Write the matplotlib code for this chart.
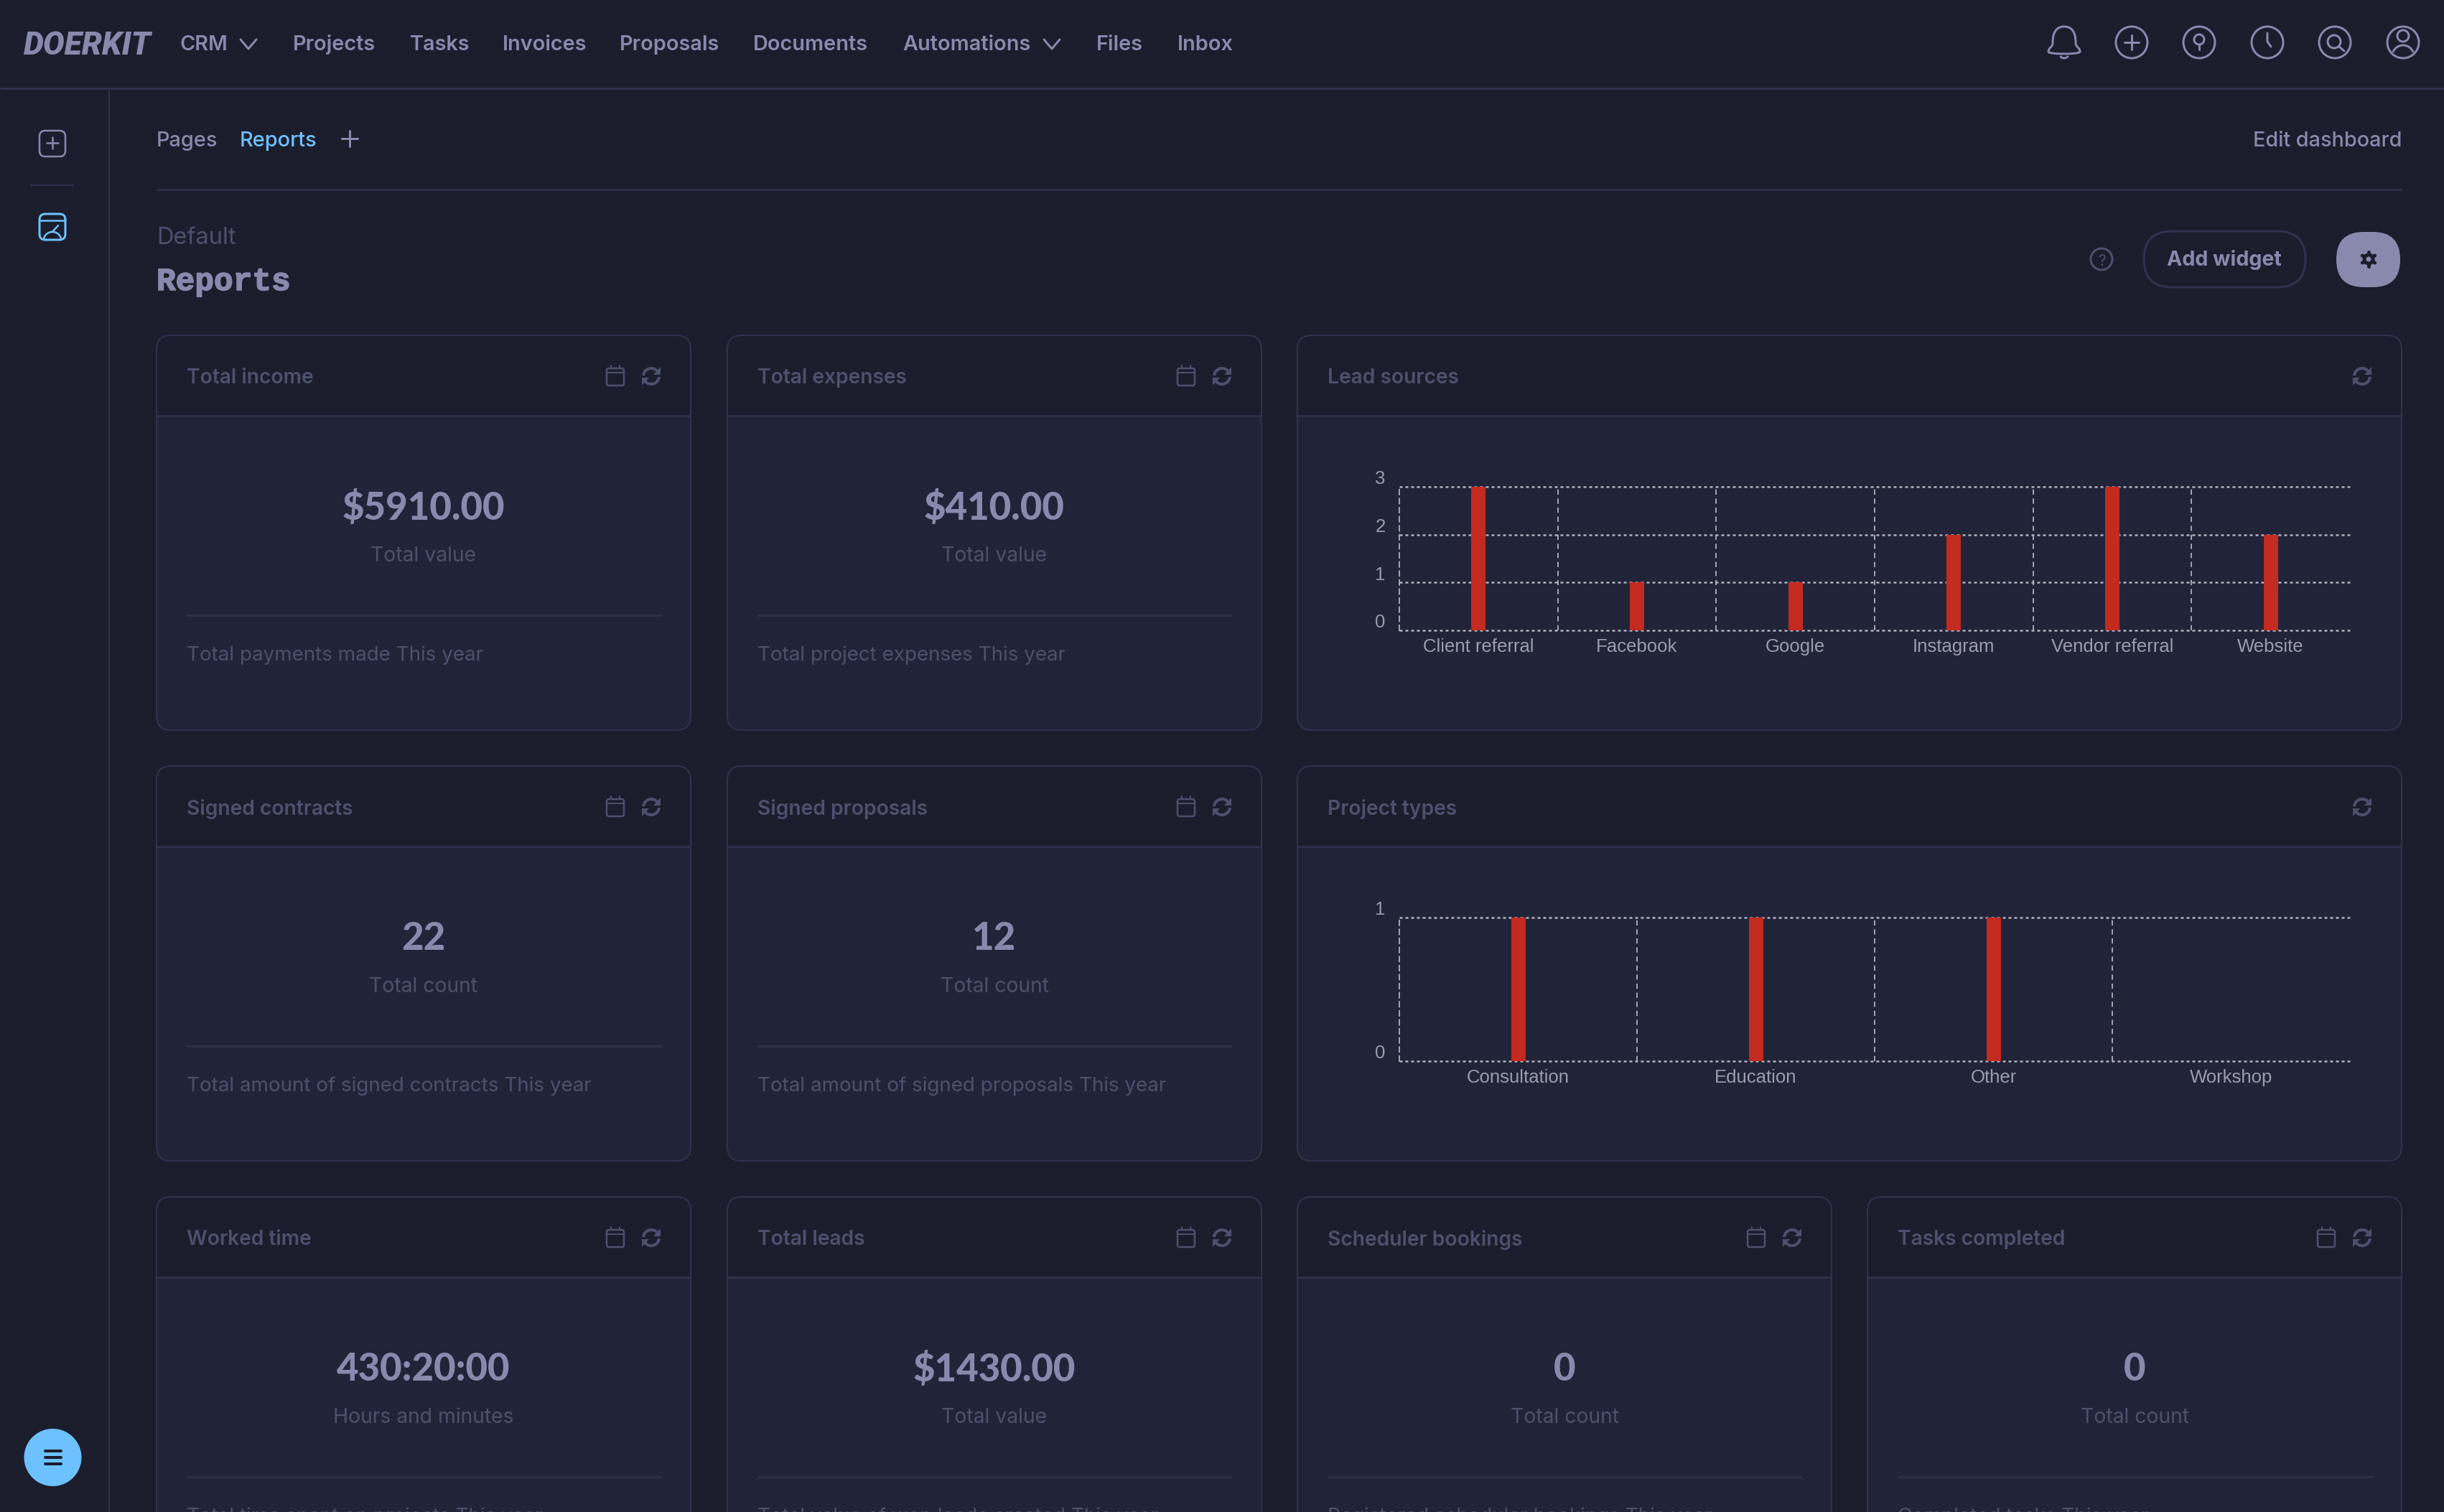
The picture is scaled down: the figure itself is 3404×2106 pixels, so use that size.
import numpy as np
import matplotlib
matplotlib.use("Agg")
import matplotlib.pyplot as plt
import matplotlib.patheffects as pe
from matplotlib.patches import Arc, Circle, FancyBboxPatch, Polygon, Rectangle
from matplotlib.path import Path
from matplotlib.patches import PathPatch
from matplotlib.transforms import ScaledTranslation

W, H = 3404, 2106

# colours
BG = "#1b1d2c"
BODY = "#212438"
BORDER = "#31324d"
TEXT = "#8889ad"
DIM = "#4d506d"
BLUE = "#6ec1ff"
RED = "#c32a20"
GRID = "#b0b1bf"
TICK = "#9a9cae"

# chart data
lead_sources = ["Client referral", "Facebook", "Google", "Instagram", "Vendor referral", "Website"]
lead_counts = [3, 1, 1, 2, 3, 2]
project_types = ["Consultation", "Education", "Other", "Workshop"]
project_counts = [1, 1, 1, 0]

# nav
nav_labels = ["CRM", "Projects", "Tasks", "Invoices", "Proposals", "Documents", "Automations", "Files", "Inbox"]
nav_x = [250, 408, 571, 700, 863, 1049, 1257, 1527, 1640]

# stat cards
stat_titles = ["Total income", "Total expenses", "Signed contracts", "Signed proposals",
               "Worked time", "Total leads", "Scheduler bookings", "Tasks completed"]
stat_values = ["$5910.00", "$410.00", "22", "12", "430:20:00", "$1430.00", "0", "0"]
stat_units = ["Total value", "Total value", "Total count", "Total count",
              "Hours and minutes", "Total value", "Total count", "Total count"]
stat_notes = ["Total payments made This year", "Total project expenses This year",
              "Total amount of signed contracts This year", "Total amount of signed proposals This year",
              "Total time spent on projects This year", "Total value of won leads created This year",
              "Registered scheduler bookings This year", "Completed tasks This year"]
stat_left = [218, 1013, 218, 1013, 218, 1013, 1807, 2601]
stat_top = [467, 467, 1067, 1067, 1667, 1667, 1667, 1667]
CARD_W = 744
CARD_H = 550

fig = plt.figure(figsize=(W / 100, H / 100), dpi=100, facecolor=BG)
ui = fig.add_axes([0, 0, 1, 1])
ui.set_xlim(0, W)
ui.set_ylim(H, 0)
ui.axis("off")


def px(v):
    # pixels to points
    return v * 72 / 100


def label(x, y, s, color=TEXT, size=21, weight="normal", ha="left", family="Inter", **kw):
    return ui.text(x, y, s, color=color, fontsize=size, fontweight=weight, ha=ha, va="center_baseline",
                   family=family, **kw)


def hline(x0, x1, y, color=BORDER, lw=3):
    ui.plot([x0, x1], [y, y], color=color, lw=px(lw), solid_capstyle="butt")


def stroke(xs, ys, color=TEXT, lw=3):
    ui.plot(xs, ys, color=color, lw=px(lw), solid_capstyle="round", solid_joinstyle="round")


def ring(x, y, r, color=TEXT, lw=3):
    ui.add_patch(Circle((x, y), r, fc="none", ec=color, lw=px(lw)))


def round_box(x, y, w, h, r, fc="none", ec="none", lw=3, zorder=1):
    box = FancyBboxPatch((x + r, y + r), w - 2 * r, h - 2 * r, boxstyle=f"round,pad={r},rounding_size={r}",
                         fc=fc, ec=ec, lw=px(lw), zorder=zorder)
    ui.add_patch(box)
    return box


def chevron(x, y):
    stroke([x - 11, x, x + 11], [y - 6, y + 7, y - 6], lw=3)


def calendar(x, y):
    round_box(x - 12, y - 11, 24, 24, 3, ec=DIM, lw=2.5, zorder=3)
    stroke([x - 12, x + 12], [y - 5, y - 5], DIM, 2)
    stroke([x - 6, x - 6], [y - 15, y - 11], DIM, 2)
    stroke([x + 6, x + 6], [y - 15, y - 11], DIM, 2)


def refresh(x, y):
    ui.add_patch(Arc((x, y), 22, 22, theta1=185, theta2=330, ec=DIM, lw=px(4), zorder=3))
    ui.add_patch(Arc((x, y), 22, 22, theta1=5, theta2=150, ec=DIM, lw=px(4), zorder=3))
    ui.add_patch(Polygon([[x + 13, y - 13], [x + 13, y - 2], [x + 3, y - 2]], fc=DIM, zorder=3))
    ui.add_patch(Polygon([[x - 13, y + 13], [x - 13, y + 2], [x - 3, y + 2]], fc=DIM, zorder=3))


def card(x, y, w, h, title):
    round_box(x, y, w, h, 20, fc=BODY, zorder=1)
    head = round_box(x, y, w, h, 20, fc=BG, zorder=1.1)
    clip = Rectangle((x - 2, y - 2), w + 4, 114, transform=ui.transData)
    head.set_clip_path(clip)
    round_box(x, y, w, h, 20, ec=BORDER, lw=2, zorder=2)
    hline(x, x + w, y + 112, lw=2.5)
    label(x + 42, y + 57, title, DIM, 20.3, "semibold", zorder=3)
    refresh(x + w - 55, y + 57)


# top bar
hline(0, W, 123)
ui.plot([152, 152], [123, H], color=BORDER, lw=px(2))
ui.text(33, 59, "DOERKIT", color=TEXT, fontsize=32, family="Roboto", fontweight="black", style="italic",
        va="center_baseline")
for s, x in zip(nav_labels, nav_x):
    label(x, 59, s, weight="semibold", size=20.8)
chevron(346, 61)
chevron(1465, 61)

# bell
bell = Path([(2875, 37), (2860, 37), (2859, 52), (2859, 60), (2859, 66), (2853, 66), (2853, 72),
             (2853, 76), (2897, 76), (2897, 72), (2897, 66), (2891, 66), (2891, 60), (2891, 52), (2890, 37), (2875, 37)],
            [Path.MOVETO] + [Path.CURVE4] * 15)
ui.add_patch(PathPatch(bell, fc="none", ec=TEXT, lw=px(3)))
ui.add_patch(Arc((2875, 76), 12, 10, theta1=20, theta2=160, ec=TEXT, lw=px(3)))

# circle icons, top right
for x in [2969, 3063, 3158, 3252, 3347]:
    ring(x, 59, 22)
stroke([2959, 2979], [59, 59])
stroke([2969, 2969], [49, 69])
ring(3063, 55, 7, lw=3)
stroke([3063, 3063], [62, 69])
stroke([3158, 3158, 3163], [46, 58, 65])
ring(3251, 58, 9)
stroke([3258, 3265], [65, 71])
ring(3347, 50, 8)
ui.add_patch(Arc((3347, 78), 30, 30, theta1=200, theta2=340, ec=TEXT, lw=px(3)))

# side bar
round_box(55, 182, 36, 36, 8, ec=TEXT, lw=2.5)
stroke([65, 81], [199, 199], lw=2.5)
stroke([73, 73], [191, 207], lw=2.5)
hline(42, 103, 258, lw=2)
round_box(55, 298, 36, 36, 8, ec=BLUE, lw=3)
stroke([55, 91], [307, 307], BLUE, 2.5)
ui.add_patch(Arc((73, 334), 24, 22, theta1=180, theta2=360, ec=BLUE, lw=px(2.5)))
stroke([73, 81], [323, 314], BLUE, 2.5)
ui.add_patch(Circle((73.5, 2030), 40, fc=BLUE, ec="none"))
for y in [2021, 2030, 2039]:
    stroke([63, 85], [y, y], BG, 4)

# tabs and heading
label(218, 193, "Pages", weight="medium", size=20.8)
label(334, 193, "Reports", BLUE, weight="medium", size=20.8)
stroke([476, 498], [193, 193], lw=3)
stroke([487, 487], [182, 204], lw=3)
label(3345, 193, "Edit dashboard", weight="medium", size=20.7, ha="right")
hline(218, 3346, 264, lw=2.5)
label(218, 328, "Default", DIM, 23.4)
title = label(218, 388, "Reports", TEXT, 32, "bold", family="Liberation Mono")
title.set_path_effects([pe.withStroke(linewidth=1.2, foreground=TEXT)])

ring(2927, 361, 15, DIM, 3)
ui.text(2927, 362, "?", color=DIM, fontsize=15, family="Inter", ha="center", va="center_baseline")
round_box(2986, 322, 225, 78, 39, ec=BORDER, lw=3)
label(3098, 359, "Add widget", weight="bold", size=20.6, ha="center")
round_box(3254, 323, 89, 77, 38, fc=TEXT)
for a in np.arange(0, 180, 60):
    dx, dy = 10 * np.cos(np.radians(a + 30)), 10 * np.sin(np.radians(a + 30))
    stroke([3299 - dx, 3299 + dx], [361 - dy, 361 + dy], BG, 5)
ui.add_patch(Circle((3299, 361), 8.5, fc=BG, ec="none", zorder=3))
ui.add_patch(Circle((3299, 361), 3.5, fc=TEXT, ec="none", zorder=3))

# stat cards
for i, title_text in enumerate(stat_titles):
    x, y = stat_left[i], stat_top[i]
    card(x, y, CARD_W, CARD_H, title_text)
    calendar(x + CARD_W - 105, y + 57)
    mid = x + CARD_W / 2
    label(mid, y + 236, stat_values[i], TEXT, 38, "black", ha="center", family="Lato", zorder=3)
    label(mid, y + 304, stat_units[i], DIM, 20.4, ha="center", zorder=3)
    hline(x + 42, x + CARD_W - 41, y + 390, lw=2.5)
    label(x + 42, y + 443, stat_notes[i], DIM, 20, zorder=3, clip_on=True)


def bar_chart(top, names, values, title):
    card(1807, top, 1538, CARD_H, title)
    y0 = (H - (top + 411)) / H
    ax = fig.add_axes([1949 / W, y0, 1324 / W, 200 / H], facecolor="none")
    x = np.arange(len(names))
    ax.bar(x, values, width=20 * len(names) / 1324, color=RED, zorder=3)
    ax.set_xlim(-0.5, len(names) - 0.5)
    ax.set_ylim(0, max(values))
    ax.set_xticks(x, names)
    ax.set_yticks(range(max(values) + 1))
    ax.set_xticks(x[:-1] + 0.5, minor=True)
    ax.tick_params(which="both", length=0)
    ax.tick_params(axis="x", which="major", pad=8, labelsize=18.5, labelcolor=TICK)
    ax.tick_params(axis="y", pad=14, labelsize=18.5, labelcolor=TICK)
    for t in ax.get_xticklabels() + ax.get_yticklabels():
        t.set_family("Liberation Sans")
    up = ScaledTranslation(0, 0.13, fig.dpi_scale_trans)
    for t in ax.get_yticklabels():
        t.set_transform(t.get_transform() + up)
    ax.set_axisbelow(True)
    ax.grid(axis="y", which="major", color=GRID, lw=px(2.5), linestyle=(0, (1.6, 1.6)))
    ax.grid(axis="x", which="minor", color=GRID, lw=px(1.8), linestyle=(0, (4, 3)))
    ax.grid(axis="x", which="major", visible=False)
    for gl in ax.get_ygridlines():
        gl.set_clip_on(False)
    ax.spines["left"].set(color=GRID, lw=px(1.8), linestyle=(0, (4, 3)))
    for side in ["top", "bottom", "right"]:
        ax.spines[side].set_visible(False)


bar_chart(467, lead_sources, lead_counts, "Lead sources")
bar_chart(1067, project_types, project_counts, "Project types")

fig.savefig("out.png", dpi=100, facecolor=BG)
